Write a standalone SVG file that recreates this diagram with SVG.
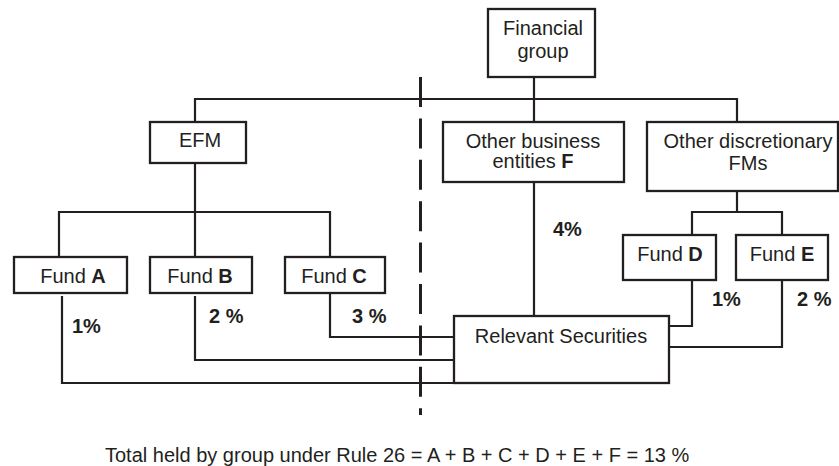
<svg xmlns="http://www.w3.org/2000/svg" width="839" height="466" viewBox="0 0 839 466">
<style>
.box{fill:#fff;stroke:#231f20;stroke-width:2.3}
.ln{fill:none;stroke:#231f20;stroke-width:2.2}
.dash{fill:none;stroke:#231f20;stroke-width:3;stroke-dasharray:30 11.4}
text{font-family:"Liberation Sans",Arial,sans-serif;font-size:20px;fill:#231f20}
.c{text-anchor:middle}
.b{font-weight:bold}
</style>
<rect width="839" height="466" fill="#fff"/>
<g id="connectors">
<path class="ln" d="M534,77 V122 M195,122 V99 H737 V122"/>
<path class="ln" d="M195,163 V212 M59,257 V212 H330 V257 M195,212 V257"/>
<path class="ln" d="M737,191 V212 M692,235 V212 H782 V235"/>
<path class="ln" d="M534,182 V316"/>
<path class="ln" d="M62,296 V383 H460"/>
<path class="ln" d="M195,296 V360 H454"/>
<path class="ln" d="M330,293 V337 H454"/>
<path class="ln" d="M692,280 V326 H669"/>
<path class="ln" d="M782,280 V347 H669"/>
<path class="dash" d="M420.5,77 V415"/>
</g>
<g id="financial-group"><rect class="box" x="488" y="9" width="107" height="68"/><text class="c" x="543" y="35">Financial</text><text class="c" x="543" y="58">group</text></g>
<g id="efm"><rect class="box" x="150" y="122" width="96" height="41"/><text class="c" x="200" y="147">EFM</text></g>
<g id="other-business"><rect class="box" x="443" y="122" width="181" height="60"/><text class="c" x="533" y="148">Other business</text><text class="c" x="533" y="168">entities <tspan class="b">F</tspan></text></g>
<g id="other-discretionary"><rect class="box" x="647" y="122" width="191" height="69"/><text class="c" x="748" y="148">Other discretionary</text><text class="c" x="748" y="170">FMs</text></g>
<g id="fund-a"><rect class="box" x="14" y="257" width="113" height="36"/><text class="c" x="73" y="283">Fund <tspan class="b">A</tspan></text></g>
<g id="fund-b"><rect class="box" x="150" y="257" width="102" height="36"/><text class="c" x="200" y="283">Fund <tspan class="b">B</tspan></text></g>
<g id="fund-c"><rect class="box" x="285" y="257" width="100" height="36"/><text class="c" x="334" y="283">Fund <tspan class="b">C</tspan></text></g>
<g id="fund-d"><rect class="box" x="623" y="235" width="93" height="45"/><text class="c" x="670" y="261">Fund <tspan class="b">D</tspan></text></g>
<g id="fund-e"><rect class="box" x="736" y="235" width="92" height="45"/><text class="c" x="782" y="261">Fund <tspan class="b">E</tspan></text></g>
<g id="relevant-securities"><rect class="box" x="454" y="316" width="215" height="67"/><text class="c" x="561" y="343">Relevant Securities</text></g>
<g id="labels">
<text class="b" x="553" y="236">4%</text>
<text class="b" x="72" y="333">1%</text>
<text class="b" x="209" y="323">2 %</text>
<text class="b" x="352" y="323">3 %</text>
<text class="b" x="712" y="306">1%</text>
<text class="b" x="797" y="306">2 %</text>
<text x="105" y="462">Total held by group under Rule 26 = A + B + C + D + E + F = 13 %</text>
</g>
</svg>
